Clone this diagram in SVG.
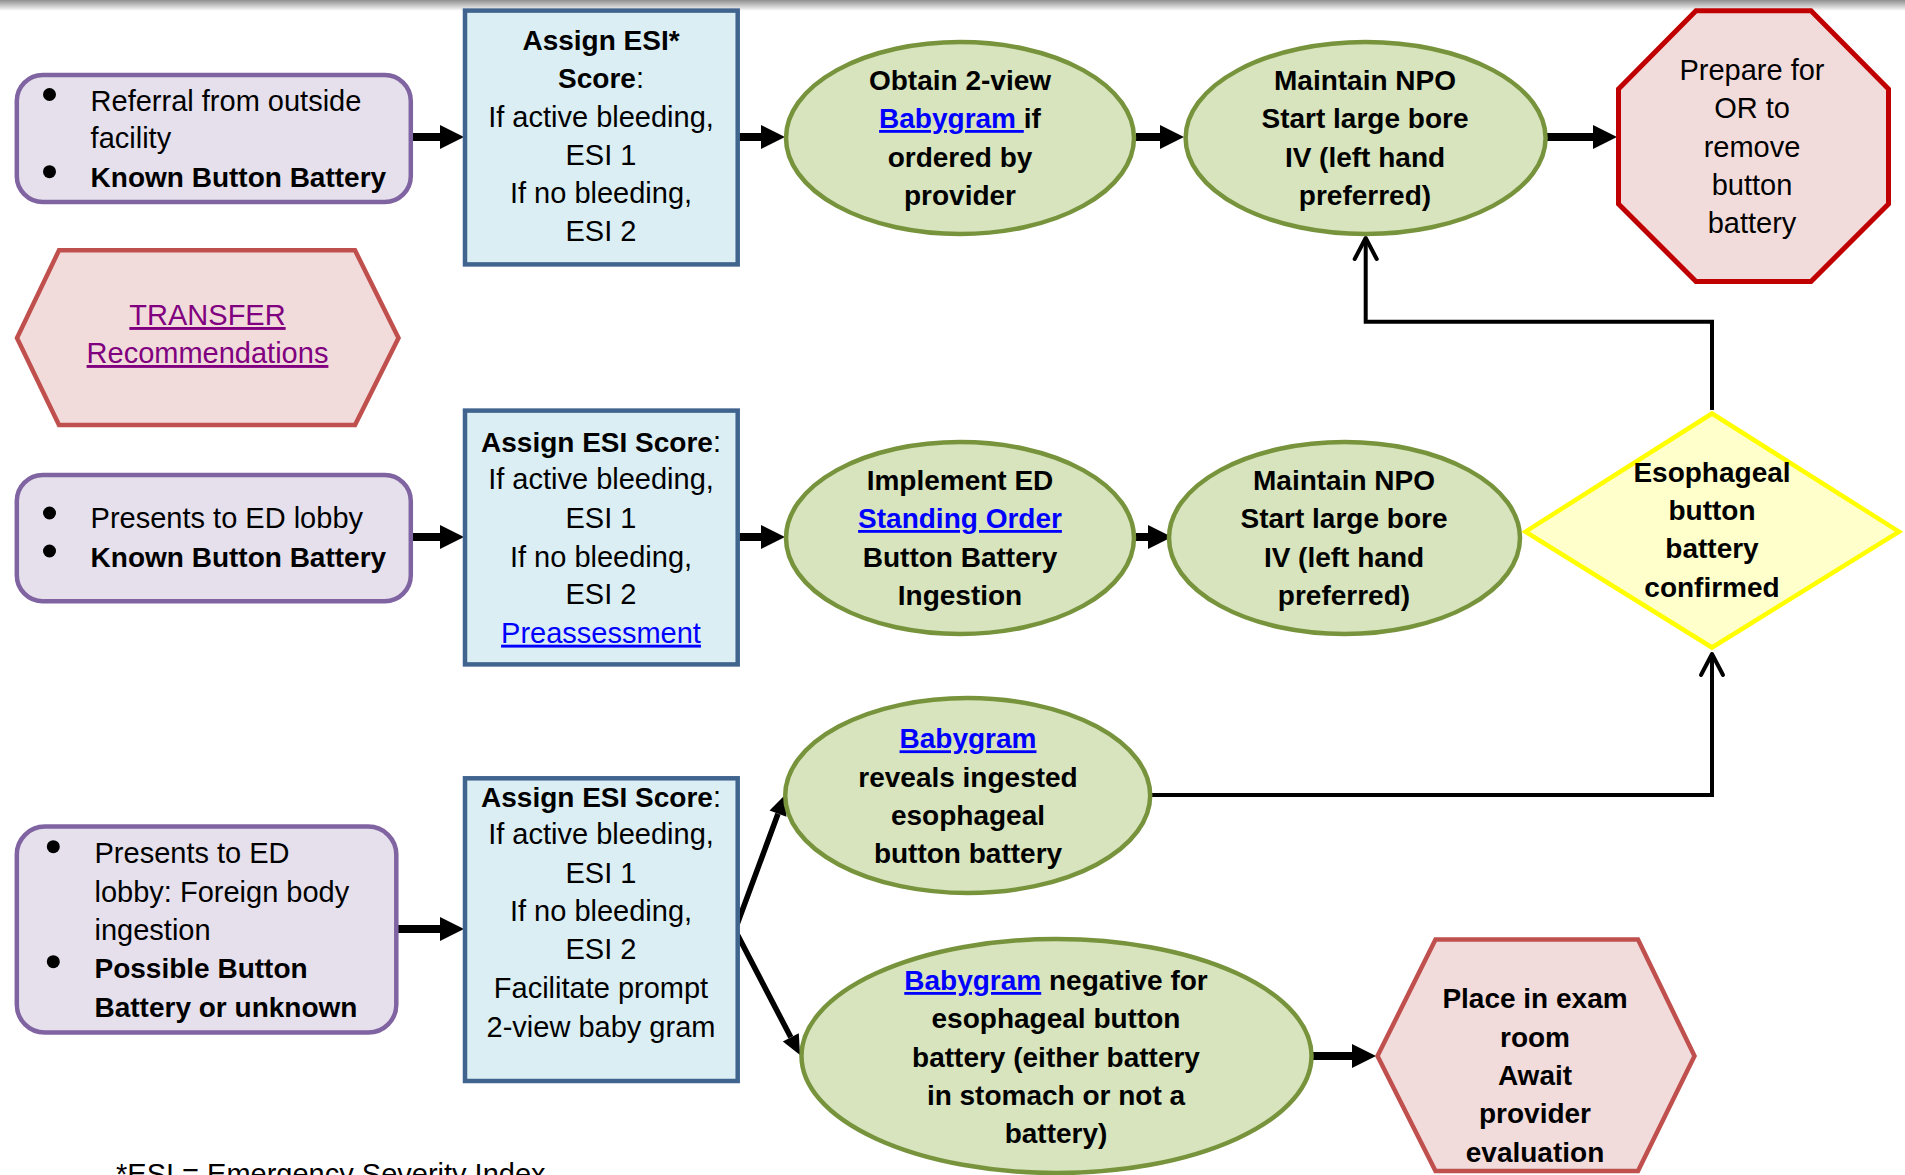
<svg xmlns="http://www.w3.org/2000/svg" width="1905" height="1175" viewBox="0 0 1905 1175">
<style>
text{font-family:"Liberation Sans",Arial,sans-serif;font-size:29px;fill:#000}
.b{font-weight:bold;font-size:28px}
.r{font-weight:normal;font-size:29px}
.c{text-anchor:middle}
.lnk{fill:#0000FF;text-decoration:underline}
.vis{fill:#800080;text-decoration:underline}
.pbox{fill:#E5E0EC;stroke:#8064A2;stroke-width:4.5}
.esi{fill:#DBEEF3;stroke:#41648F;stroke-width:4.5}
.oval{fill:#D7E4BD;stroke:#77933C;stroke-width:4.5}
.hex{fill:#F2DCDB;stroke:#C0504D;stroke-width:4.5;stroke-linejoin:miter}
.oct{fill:#F2DCDB;stroke:#C00000;stroke-width:5}
.dia{fill:#FFFFCC;stroke:#FFFF00;stroke-width:4.5}
.thick{fill:none;stroke:#000;stroke-width:8;marker-end:url(#ah)}
.mid{fill:none;stroke:#000;stroke-width:5.5;stroke-linejoin:miter;marker-start:url(#ahm);marker-end:url(#ahm)}
.thin{fill:none;stroke:#000;stroke-width:4;marker-end:url(#open)}
</style>
<defs>
<linearGradient id="shade" x1="0" y1="0" x2="0" y2="1">
<stop offset="0" stop-color="#8f8f8f"/>
<stop offset="1" stop-color="#ffffff"/>
</linearGradient>
<marker id="ah" markerUnits="userSpaceOnUse" orient="auto" overflow="visible" markerWidth="24" markerHeight="24" refX="0" refY="0">
<path d="M0,-12 L24,0 L0,12 Z" fill="#000"/>
</marker>
<marker id="ahm" markerUnits="userSpaceOnUse" orient="auto-start-reverse" overflow="visible" markerWidth="20" markerHeight="20" refX="0" refY="0">
<path d="M0,-9 L20,0 L0,9 Z" fill="#000"/>
</marker>
<marker id="open" markerUnits="userSpaceOnUse" orient="auto" overflow="visible" markerWidth="24" markerHeight="24" refX="0" refY="0">
<path d="M-21,-11 L0,0 L-21,11" fill="none" stroke="#000" stroke-width="4" stroke-linecap="round" stroke-linejoin="round"/>
</marker>
</defs>
<rect x="0" y="0" width="1905" height="1175" fill="#fff"/>
<rect x="0" y="0" width="1905" height="11" fill="url(#shade)"/>

<g id="connectors">
<path class="thick" d="M413,137 H440"/>
<path class="thick" d="M739,137 H761"/>
<path class="thick" d="M1136,137 H1160"/>
<path class="thick" d="M1547,137 H1593"/>
<path class="thick" d="M413,537 H440"/>
<path class="thick" d="M739,537 H761"/>
<path class="thick" d="M1136,537 H1148"/>
<path class="thick" d="M398,929 H440"/>
<path class="thick" d="M1313,1056 H1352"/>
<path class="mid" d="M778,813.7 L735,930 L790.8,1037.3"/>
<path class="thin" d="M1712,410 V321.7 H1365.7 V238"/>
<path class="thin" d="M1152,795 H1712 V654"/>
</g>

<g id="referral">
<rect class="pbox" x="16.8" y="75" width="394" height="127" rx="26"/>
<circle cx="49.5" cy="94.5" r="6.5"/>
<circle cx="49.5" cy="171.7" r="6.5"/>
<text x="90.6" y="111">Referral from outside</text>
<text x="90.6" y="148">facility</text>
<text class="b" x="90.6" y="187">Known Button Battery</text>
</g>

<g id="transfer">
<polygon class="hex" points="59,250.3 355,250.3 398.5,338 355,425 59,425 17,338"/>
<text class="c vis" x="207.5" y="325">TRANSFER</text>
<text class="c vis" x="207.5" y="363">Recommendations</text>
</g>

<g id="lobby">
<rect class="pbox" x="16.8" y="475" width="394" height="126.3" rx="26"/>
<circle cx="49.5" cy="513" r="6.5"/>
<circle cx="49.5" cy="551" r="6.5"/>
<text x="90.6" y="528">Presents to ED lobby</text>
<text class="b" x="90.6" y="566.7">Known Button Battery</text>
</g>

<g id="foreign-body">
<rect class="pbox" x="16.8" y="826.6" width="379.5" height="206" rx="28"/>
<circle cx="53.3" cy="846.7" r="6.5"/>
<circle cx="53.3" cy="961.7" r="6.5"/>
<text x="94.5" y="863.3">Presents to ED</text>
<text x="94.5" y="901.7">lobby: Foreign body</text>
<text x="94.5" y="940">ingestion</text>
<text class="b" x="94.5" y="978.3">Possible Button</text>
<text class="b" x="94.5" y="1016.7">Battery or unknown</text>
</g>

<g id="esi1">
<rect class="esi" x="465" y="10.6" width="272.7" height="253.8"/>
<text class="c b" x="601" y="50">Assign ESI*</text>
<text class="c" x="601" y="88"><tspan class="b">Score</tspan><tspan class="r">:</tspan></text>
<text class="c" x="601" y="126.7">If active bleeding,</text>
<text class="c" x="601" y="165">ESI 1</text>
<text class="c" x="601" y="203">If no bleeding,</text>
<text class="c" x="601" y="241">ESI 2</text>
</g>

<g id="esi2">
<rect class="esi" x="465" y="410.6" width="272.7" height="253.8"/>
<text class="c" x="601" y="451.7"><tspan class="b">Assign ESI Score</tspan><tspan class="r">:</tspan></text>
<text class="c" x="601" y="489">If active bleeding,</text>
<text class="c" x="601" y="528">ESI 1</text>
<text class="c" x="601" y="566.7">If no bleeding,</text>
<text class="c" x="601" y="604">ESI 2</text>
<text class="c lnk" x="601" y="642.7">Preassessment</text>
</g>

<g id="esi3">
<rect class="esi" x="465" y="778.3" width="272.7" height="302.7"/>
<text class="c" x="601" y="806.7"><tspan class="b">Assign ESI Score</tspan><tspan class="r">:</tspan></text>
<text class="c" x="601" y="844">If active bleeding,</text>
<text class="c" x="601" y="882.7">ESI 1</text>
<text class="c" x="601" y="920.7">If no bleeding,</text>
<text class="c" x="601" y="959.3">ESI 2</text>
<text class="c" x="601" y="998.3">Facilitate prompt</text>
<text class="c" x="601" y="1036.7">2-view baby gram</text>
</g>

<g id="obtain-babygram">
<ellipse class="oval" cx="960" cy="138" rx="174" ry="96"/>
<text class="c b" x="960" y="90">Obtain 2-view</text>
<text class="c b" x="960" y="128"><tspan class="lnk">Babygram </tspan>if</text>
<text class="c b" x="960" y="167">ordered by</text>
<text class="c b" x="960" y="205">provider</text>
</g>

<g id="npo1">
<ellipse class="oval" cx="1365.6" cy="138" rx="180" ry="96"/>
<text class="c b" x="1365" y="90">Maintain NPO</text>
<text class="c b" x="1365" y="128">Start large bore</text>
<text class="c b" x="1365" y="167">IV (left hand</text>
<text class="c b" x="1365" y="205">preferred)</text>
</g>

<g id="prepare-or">
<polygon class="oct" points="1696,10.8 1811,10.8 1888.5,89 1888.5,204 1811,281.5 1696,281.5 1618.5,204 1618.5,89"/>
<text class="c" x="1752" y="80">Prepare for</text>
<text class="c" x="1752" y="118">OR to</text>
<text class="c" x="1752" y="157">remove</text>
<text class="c" x="1752" y="195">button</text>
<text class="c" x="1752" y="233">battery</text>
</g>

<g id="standing-order">
<ellipse class="oval" cx="960" cy="538" rx="174" ry="96"/>
<text class="c b" x="960" y="490">Implement ED</text>
<text class="c b lnk" x="960" y="528">Standing Order</text>
<text class="c b" x="960" y="567">Button Battery</text>
<text class="c b" x="960" y="605">Ingestion</text>
</g>

<g id="npo2">
<ellipse class="oval" cx="1344.5" cy="538" rx="175.5" ry="96"/>
<text class="c b" x="1344" y="490">Maintain NPO</text>
<text class="c b" x="1344" y="528">Start large bore</text>
<text class="c b" x="1344" y="567">IV (left hand</text>
<text class="c b" x="1344" y="605">preferred)</text>
</g>

<g id="confirmed">
<polygon class="dia" points="1712,413.5 1899,531.7 1712,647.5 1525.5,531.7"/>
<text class="c b" x="1712" y="481.7">Esophageal</text>
<text class="c b" x="1712" y="520">button</text>
<text class="c b" x="1712" y="558">battery</text>
<text class="c b" x="1712" y="596.7">confirmed</text>
</g>

<g id="babygram-positive">
<ellipse class="oval" cx="967.7" cy="795.5" rx="182.5" ry="97.5"/>
<text class="c b lnk" x="968" y="748.3">Babygram</text>
<text class="c b" x="968" y="786.7">reveals ingested</text>
<text class="c b" x="968" y="825">esophageal</text>
<text class="c b" x="968" y="863.3">button battery</text>
</g>

<g id="babygram-negative">
<ellipse class="oval" cx="1056.5" cy="1056" rx="255" ry="117"/>
<text class="c b" x="1056" y="990"><tspan class="lnk">Babygram</tspan> negative for</text>
<text class="c b" x="1056" y="1028.3">esophageal button</text>
<text class="c b" x="1056" y="1066.7">battery (either battery</text>
<text class="c b" x="1056" y="1105">in stomach or not a</text>
<text class="c b" x="1056" y="1143.3">battery)</text>
</g>

<g id="exam-room">
<polygon class="hex" points="1435.5,939.5 1638,939.5 1694.5,1056 1638,1171 1435.5,1171 1377.5,1056"/>
<text class="c b" x="1535" y="1008.3">Place in exam</text>
<text class="c b" x="1535" y="1046.7">room</text>
<text class="c b" x="1535" y="1085">Await</text>
<text class="c b" x="1535" y="1123.3">provider</text>
<text class="c b" x="1535" y="1161.7">evaluation</text>
</g>

<text x="116" y="1184">*ESI = Emergency Severity Index</text>
</svg>
